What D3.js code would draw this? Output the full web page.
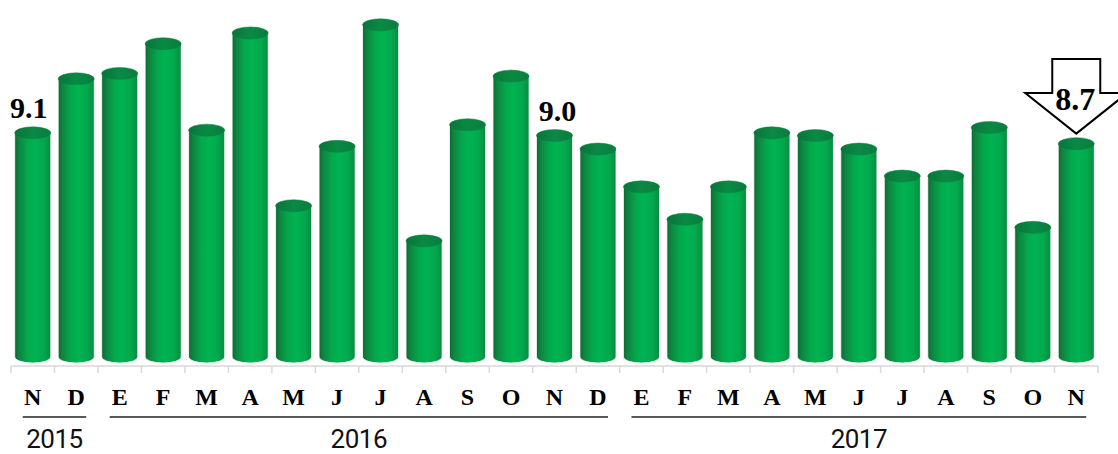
<!DOCTYPE html>
<html><head><meta charset="utf-8">
<script src="https://cdn.jsdelivr.net/npm/d3@7"></script>
<style>html,body{margin:0;padding:0;background:#fff;}svg{display:block;}</style>
</head><body>
<svg id="chart" width="1118" height="454"></svg>
<script>
const months = ["N","D","E","F","M","A","M","J","J","A","S","O","N","D","E","F","M","A","M","J","J","A","S","O","N"];
const values = [9.1,11.1,11.3,12.4,9.2,12.8,6.4,8.6,13.1,5.1,9.4,11.2,9.0,8.5,7.1,5.9,7.1,9.1,9.0,8.5,7.5,7.5,9.3,5.6,8.7];
const years = ["2015","2016","2017"];
const yearStart = [0,2,14];
const yearEnd = [1,13,24];
const labelled = [0,12];
const arrowIndex = 24;

const svg = d3.select("#chart");
const idx = d3.range(values.length);
const x = d3.scaleBand().domain(idx).range([11,1098]).paddingInner(0.17).paddingOuter(0.085);
const y = d3.scaleLinear().domain([0.8,13.5]).range([357,14]);
const ry = 6;

const defs = svg.append("defs");
const g1 = defs.append("linearGradient").attr("id","body").attr("x1","0%").attr("x2","100%").attr("y1","0%").attr("y2","0%");
[["0%","#0c6a34"],["12%","#0f8440"],["35%","#03a84c"],["55%","#00b352"],["80%","#02a94c"],["100%","#0a8a42"]]
  .forEach(s=>g1.append("stop").attr("offset",s[0]).attr("stop-color",s[1]));
const g2 = defs.append("linearGradient").attr("id","top").attr("x1","0%").attr("x2","100%");
[["0%","#08743a"],["50%","#0a8a44"],["100%","#087c3e"]]
  .forEach(s=>g2.append("stop").attr("offset",s[0]).attr("stop-color",s[1]));

// axis baseline with ticks
const bandStep = x.step();
const axisY = 366;
svg.append("line").attr("x1",x.range()[0]).attr("x2",x.range()[1]).attr("y1",axisY).attr("y2",axisY)
  .attr("stroke","#d9d9d9").attr("stroke-width",1.5);
const tickXs = d3.range(values.length+1).map(i=>x.range()[0]+i*bandStep);
svg.selectAll("line.tick").data(tickXs).join("line").attr("class","tick")
  .attr("x1",d=>d).attr("x2",d=>d).attr("y1",axisY).attr("y2",axisY+7)
  .attr("stroke","#d9d9d9").attr("stroke-width",1.5);

// cylinders
const bw = x.bandwidth(), rx = bw/2;
const bars = svg.selectAll("g.bar").data(idx).join("g").attr("class","bar");
bars.append("path")
  .attr("d", i => {
    const l = x(i), r = x(i)+bw, t = y(values[i]), b = y.range()[0];
    return `M${l},${t} L${l},${b} A${rx},${ry} 0 0 0 ${r},${b} L${r},${t} Z`;
  })
  .attr("fill","url(#body)").attr("stroke","#ffffff").attr("stroke-width",0.8);
bars.append("ellipse")
  .attr("cx", i => x(i)+rx).attr("cy", i => y(values[i])).attr("rx", rx).attr("ry", ry)
  .attr("fill","url(#top)").attr("stroke","#0b8140").attr("stroke-width",0.5);

// value labels
svg.selectAll("text.val").data(labelled).join("text").attr("class","val")
  .attr("x", i => x(i)+rx+(i===0?-4:3)).attr("y", i => y(values[i])-15)
  .attr("text-anchor","middle").attr("font-family","'Liberation Serif','Times New Roman',serif")
  .attr("font-weight","bold").attr("font-size",30).attr("fill","#000")
  .text(i => values[i].toFixed(1));

// arrow with last value
const ax = x(arrowIndex)+rx;
const tipY = y(values[arrowIndex]) - 10;
const arrowPts = [[ax-24,59],[ax+24,59],[ax+24,93],[ax+51,93],[ax,tipY],[ax-51,93],[ax-24,93]];
svg.append("path").attr("d","M"+arrowPts.map(p=>p.join(",")).join(" L")+" Z")
  .attr("fill","#fff").attr("stroke","#000").attr("stroke-width",2).attr("stroke-linejoin","miter");
svg.append("text").attr("x",ax-1).attr("y",110).attr("text-anchor","middle")
  .attr("font-family","'Liberation Serif','Times New Roman',serif").attr("font-weight","bold")
  .attr("font-size",32).text(values[arrowIndex].toFixed(1));

// month labels
svg.selectAll("text.m").data(idx).join("text").attr("class","m")
  .attr("x", i => x(i)+rx).attr("y",405).attr("text-anchor","middle")
  .attr("font-family","'Liberation Serif','Times New Roman',serif").attr("font-weight","bold")
  .attr("font-size",24).text(i => months[i]);

// year brackets
const yrs = years.map((yr,k)=>({yr, s:yearStart[k], e:yearEnd[k]}));
svg.selectAll("line.yr").data(yrs).join("line").attr("class","yr")
  .attr("x1", d => x(d.s)+rx-10).attr("x2", d => x(d.e)+rx+10)
  .attr("y1",417).attr("y2",417).attr("stroke","#222").attr("stroke-width",1.5);
svg.selectAll("text.yr").data(yrs).join("text").attr("class","yr")
  .attr("x", d => (x(d.s)+x(d.e)+bw)/2).attr("y",448).attr("text-anchor","middle")
  .attr("font-family","Roboto,'Open Sans',sans-serif").attr("font-size",26).attr("letter-spacing",-0.5)
  .attr("fill","#111").text(d => d.yr);
</script>
</body></html>
